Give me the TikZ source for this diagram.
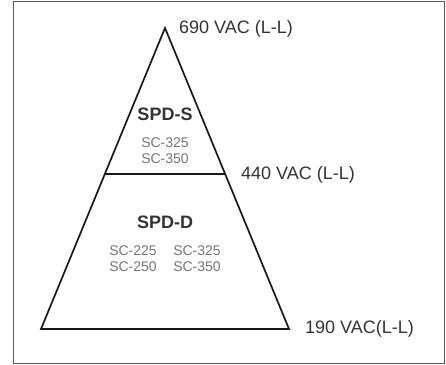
\documentclass[tikz,border=0pt]{standalone}
\usepackage{fontspec}
\setmainfont{Liberation Sans}

\begin{document}
\begin{tikzpicture}[
    x=1pt, y=-1pt,
    edge/.style={line width=1.7pt, draw=black!90, line join=miter},
    level/.style={font=\fontsize{18}{20}\selectfont, text=black!80,
                  anchor=west, inner sep=0pt},
    family/.style={font=\fontsize{18}{20}\selectfont\bfseries, text=black!80,
                   inner sep=0pt},
    model/.style={font=\fontsize{14}{16}\selectfont, text=black!55,
                  align=center, inner sep=0pt}
]
\useasboundingbox (0,0) rectangle (446,364);

% Rahmen
\draw[black!65, line width=1pt] (13,1) rectangle (444,363);

% Ecken der Pyramide
\coordinate (top) at (165,28);
\coordinate (bl)  at (41,329);
\coordinate (br)  at (289,329);
\coordinate (ml)  at (105,174);
\coordinate (mr)  at (225,174);

\draw[edge] (top) -- (br) -- (bl) -- cycle;
\draw[edge] (ml) -- (mr);

% Spannungen
\node[level] (v690) at (179,29)  {690 VAC (L-L)};
\node[level] (v440) at (241,175) {440 VAC (L-L)};
\node[level] (v190) at (305,329) {190 VAC(L-L)};

% SPD-S
\node[family] (spds) at (165,114) {SPD-S};
\node[model]  (smod) at (165,151) {SC-325\\SC-350};

% SPD-D
\node[family] (spdd) at (165,222) {SPD-D};
\node[model]  (dleft)  at (133,259) {SC-225\\SC-250};
\node[model]  (dright) at (197,259) {SC-325\\SC-350};

\end{tikzpicture}
\end{document}
